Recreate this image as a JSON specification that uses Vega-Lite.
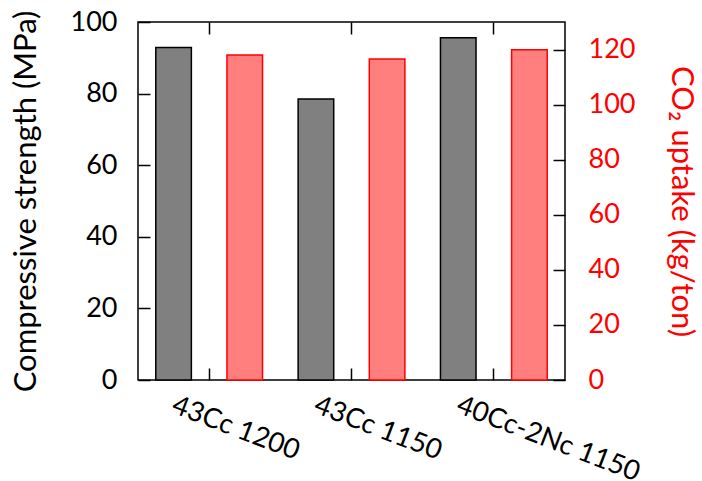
{
  "$schema": "https://vega.github.io/schema/vega-lite/v6.json",
  "width": 427,
  "height": 358,
  "autosize": "none",
  "padding": {"left": 138, "top": 22, "right": 137, "bottom": 101},
  "background": "white",
  "config": {
    "view": {"stroke": "black", "strokeWidth": 1.5},
    "font": "Lato",
    "axis": {"grid": false, "domain": false, "tickColor": "black", "tickWidth": 1.5, "labelColor": "black", "titleColor": "black", "labelFont": "Lato", "titleFont": "Lato", "titleFontWeight": "normal", "zindex": 1, "labelLimit": 400}
  },
  "data": {
    "values": [
      {"sample": "43Cc 1200", "measure": "strength", "value": 92.9},
      {"sample": "43Cc 1200", "measure": "uptake", "value": 118},
      {"sample": "43Cc 1150", "measure": "strength", "value": 78.5},
      {"sample": "43Cc 1150", "measure": "uptake", "value": 116.6},
      {"sample": "40Cc-2Nc 1150", "measure": "strength", "value": 95.6},
      {"sample": "40Cc-2Nc 1150", "measure": "uptake", "value": 119.9}
    ]
  },
  "encoding": {
    "xOffset": {"field": "measure", "type": "nominal", "sort": null, "scale": {"domain": ["strength", "uptake"], "paddingInner": 0.5, "paddingOuter": 0.25}}
  },
  "layer": [
    {
      "transform": [{"filter": "datum.measure === 'strength'"}],
      "mark": {"type": "bar", "fill": "#808080", "stroke": "black", "strokeWidth": 1.5},
      "encoding": {
        "x": {"field": "sample", "type": "nominal", "sort": null, "title": null,
          "scale": {"paddingInner": 0, "paddingOuter": 0},
          "axis": {"orient": "bottom", "tickSize": -12, "labelAngle": 21, "labelAlign": "left", "labelBaseline": "top", "labelOffset": -31, "labelPadding": 23, "labelFontSize": 27.5}},
        "y": {"field": "value", "type": "quantitative", "title": "Compressive strength (MPa)",
          "scale": {"domain": [0, 100], "nice": false},
          "axis": {"orient": "left", "values": [0, 20, 40, 60, 80, 100], "tickSize": -12, "labelPadding": 33, "labelFontSize": 27, "titleFontSize": 31, "titlePadding": 28}}
      }
    },
    {
      "transform": [{"filter": "datum.measure === 'uptake'"}],
      "mark": {"type": "bar", "fill": "#ff7f7f", "stroke": "#ff0000", "strokeWidth": 1.5},
      "encoding": {
        "x": {"field": "sample", "type": "nominal", "sort": null, "title": null,
          "scale": {"paddingInner": 0, "paddingOuter": 0},
          "axis": {"orient": "top", "tickSize": -12, "labels": false}},
        "y": {"field": "value", "type": "quantitative", "title": "CO₂ uptake (kg/ton)",
          "scale": {"domain": [0, 130], "nice": false},
          "axis": {"orient": "right", "values": [0, 20, 40, 60, 80, 100, 120], "tickSize": -12, "labelPadding": 35, "labelFontSize": 27, "labelColor": "#ff0000", "titleColor": "#ff0000", "titleFontSize": 31, "titlePadding": 30}}
      }
    }
  ],
  "resolve": {"scale": {"y": "independent"}, "axis": {"x": "independent"}}
}
